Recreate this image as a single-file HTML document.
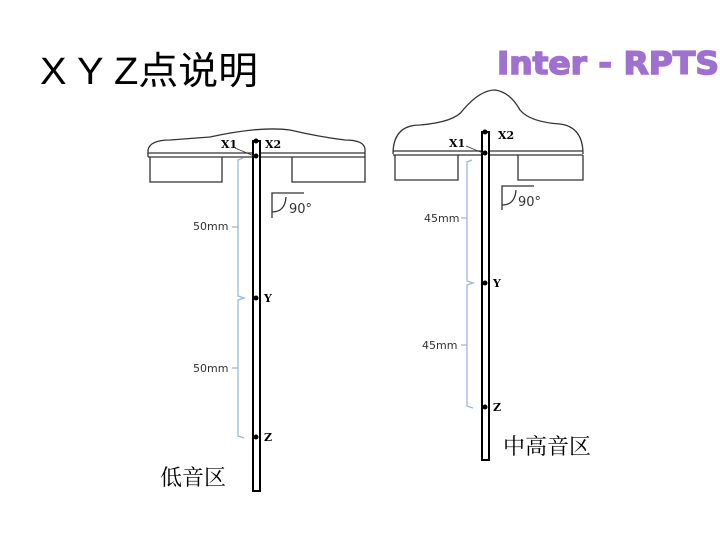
<!DOCTYPE html>
<html><head><meta charset="utf-8"><style>
body{margin:0;background:#fff;width:720px;height:540px;overflow:hidden}
</style></head><body>
<svg width="720" height="540" xmlns="http://www.w3.org/2000/svg" font-family="Liberation Sans, Noto Sans CJK SC, sans-serif">
<text x="40" y="84" font-size="38" fill="#000" textLength="218" lengthAdjust="spacingAndGlyphs">X Y Z点说明</text>
<text x="497" y="74" font-size="31" font-weight="bold" fill="#a070d0" stroke="#a070d0" stroke-width="1.5" font-family="DejaVu Sans, sans-serif" textLength="222" lengthAdjust="spacingAndGlyphs">Inter - RPTS</text>
<g fill="none" stroke="#333" stroke-width="1.3">
<path d="M148,157 L148,150 Q150,140 170,140 L210,137 Q260,126 290,130 Q320,137 345,140 Q365,140 365,150 L365,157"/>
<line x1="148" y1="153" x2="365" y2="153"/><line x1="148" y1="157" x2="365" y2="157"/>
<path d="M150,157 L150,182 L222,182 L222,157"/><path d="M292,157 L292,182 L365,182 L365,157"/>
<path d="M272,218 L272,193 L304,193"/><path d="M272,212 Q285,212 286,197"/>
<path d="M393,154 Q393,125 420,125 Q455,122 463,110 Q480,90 495,90 Q510,92 520,110 Q530,122 560,124 Q583,127 583,154"/>
<line x1="393" y1="151" x2="583" y2="151"/><line x1="393" y1="155" x2="583" y2="155"/>
<path d="M395,155 L395,180 L458,180 L458,155"/><path d="M518,155 L518,180 L583,180 L583,155"/>
<path d="M502,210 L502,186 L534,186"/><path d="M502,205 Q515,205 516,190"/>
</g>
<g fill="#fff" stroke="#000" stroke-width="2">
<rect x="253" y="141" width="7" height="350"/>
<rect x="482" y="132" width="7" height="328"/>
</g>
<g fill="#000">
<circle cx="256" cy="141" r="2.5"/><circle cx="256" cy="156" r="2.5"/><circle cx="256" cy="298" r="2.5"/><circle cx="256" cy="437" r="2.5"/>
<circle cx="485" cy="132" r="2.5"/><circle cx="485" cy="153" r="2.5"/><circle cx="485" cy="283" r="2.5"/><circle cx="485" cy="407" r="2.5"/>
</g>
<g stroke="#333" stroke-width="0.8"><line x1="235" y1="148" x2="254" y2="156"/><line x1="466" y1="146" x2="483" y2="153"/></g>
<g fill="none" stroke="#9ab8dc" stroke-width="1.3">
<path d="M243,158 L238,160 L238,296 L244,298 L238,300 L238,436 L244,438"/>
<path d="M472,160 L467,162 L467,281 L473,283 L467,285 L467,406 L473,408"/>
<line x1="232" y1="227" x2="238" y2="227"/><line x1="232" y1="368" x2="238" y2="368"/>
<line x1="461" y1="218" x2="467" y2="218"/><line x1="461" y1="345" x2="467" y2="345"/>
</g>
<g font-family="DejaVu Serif, serif" font-size="11" fill="#000" font-weight="bold">
<text x="221" y="148">X1</text><text x="265" y="148">X2</text>
<text x="264" y="302">Y</text><text x="264" y="441">Z</text>
<text x="449" y="147">X1</text><text x="498" y="139">X2</text>
<text x="493" y="287">Y</text><text x="493" y="411">Z</text>
</g>
<g font-family="DejaVu Sans, sans-serif" font-size="11" fill="#333">
<text x="193" y="230">50mm</text><text x="193" y="372">50mm</text>
<text x="424" y="222">45mm</text><text x="422" y="349">45mm</text>
<text x="289" y="213" font-size="13">90°</text><text x="518" y="206" font-size="13">90°</text>
</g>
<g font-family="Noto Serif CJK SC, serif" font-size="22" fill="#000">
<text x="160" y="485">低音区</text><text x="503" y="454">中高音区</text>
</g>
</svg>
</body></html>
